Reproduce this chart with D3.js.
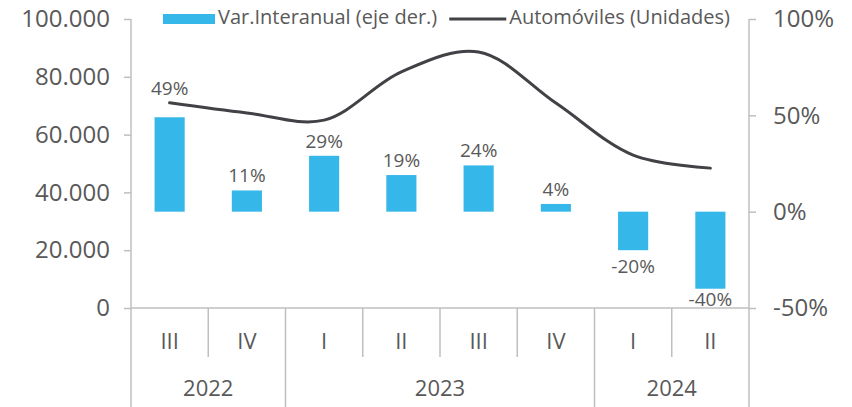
<!DOCTYPE html>
<html>
<head>
<meta charset="utf-8">
<script src="https://cdn.jsdelivr.net/npm/d3@7"></script>
<style>
  body { margin: 0; background: #fff; }
  text { font-family: "Open Sans", sans-serif; fill: #595959; }
</style>
</head>
<body>
<div id="chart"></div>
<script>
// data
const quarters = ['III', 'IV', 'I', 'II', 'III', 'IV', 'I', 'II'];
const quarterYears = ['2022', '2022', '2023', '2023', '2023', '2023', '2024', '2024'];
const autos = [71000, 67500, 65000, 81700, 88600, 70900, 52900, 48400];
const varInteranual = [49, 11, 29, 19, 24, 4, -20, -40];
const leftTicks = [0, 20000, 40000, 60000, 80000, 100000];
const rightTicks = [-50, 0, 50, 100];
const legendLabels = ['Var.Interanual (eje der.)', 'Automóviles (Unidades)'];

const width = 852, height = 407;
const margin = {top: 19, right: 103, bottom: 99, left: 131};
const barColor = '#35b7e9';
const lineColor = '#414146';
const axisColor = '#bfbfbf';

const svg = d3.select('#chart').append('svg')
  .attr('width', width)
  .attr('height', height);

const x = d3.scaleBand()
  .domain(d3.range(quarters.length))
  .range([margin.left, width - margin.right]);

const yL = d3.scaleLinear()
  .domain([0, 100000])
  .range([height - margin.bottom, margin.top]);

const yR = d3.scaleLinear()
  .domain([-50, 100])
  .range([height - margin.bottom, margin.top]);

const bw = x.bandwidth();
const barW = bw * 0.39;
const cx = i => x(i) + bw / 2;
const plotBottom = height - margin.bottom;

// left axis
svg.append('g')
  .attr('transform', `translate(${margin.left},0)`)
  .call(d3.axisLeft(yL).tickValues(leftTicks).tickSize(7).tickSizeOuter(0).tickPadding(14)
    .tickFormat(d => d3.format(',')(d).replace(/,/g, '.')))
  .call(g => g.select('.domain').remove())
  .call(g => g.selectAll('.tick line').attr('stroke', axisColor).attr('stroke-width', 1.5))
  .call(g => g.selectAll('.tick text').attr('font-size', 24).attr('fill', '#595959'));

// right axis
svg.append('g')
  .attr('transform', `translate(${width - margin.right},0)`)
  .call(d3.axisRight(yR).tickValues(rightTicks).tickSize(7).tickSizeOuter(0).tickPadding(17)
    .tickFormat(d => d + '%'))
  .call(g => g.select('.domain').remove())
  .call(g => g.selectAll('.tick line').attr('stroke', axisColor).attr('stroke-width', 1.5))
  .call(g => g.selectAll('.tick text').attr('font-size', 24).attr('fill', '#595959'));

// axis lines, running down through the category area
const axes = svg.append('g').attr('stroke', axisColor).attr('stroke-width', 1.5);
axes.append('line')
  .attr('x1', margin.left).attr('x2', margin.left)
  .attr('y1', margin.top).attr('y2', height);
axes.append('line')
  .attr('x1', width - margin.right).attr('x2', width - margin.right)
  .attr('y1', margin.top).attr('y2', height);
axes.append('line')
  .attr('x1', margin.left).attr('x2', width - margin.right)
  .attr('y1', plotBottom).attr('y2', plotBottom);

// separators between quarters; longer where the year changes
d3.range(1, quarters.length).forEach(i => {
  const newYear = quarterYears[i] !== quarterYears[i - 1];
  axes.append('line')
    .attr('x1', x(i)).attr('x2', x(i))
    .attr('y1', plotBottom)
    .attr('y2', newYear ? height : plotBottom + 49);
});

// quarter labels
svg.append('g').selectAll('text')
  .data(quarters)
  .join('text')
    .attr('x', (d, i) => cx(i))
    .attr('y', plotBottom + 35)
    .attr('text-anchor', 'middle')
    .attr('dominant-baseline', 'middle')
    .attr('font-size', 22)
    .text(d => d);

// year labels, centred under their quarters
const yearGroups = d3.groups(quarters.map((q, i) => i), i => quarterYears[i]);
svg.append('g').selectAll('text')
  .data(yearGroups)
  .join('text')
    .attr('x', d => (x(d[1][0]) + x(d[1][d[1].length - 1]) + bw) / 2)
    .attr('y', plotBottom + 82)
    .attr('text-anchor', 'middle')
    .attr('dominant-baseline', 'middle')
    .attr('font-size', 22)
    .text(d => d[0]);

// bars
svg.append('g').selectAll('rect')
  .data(varInteranual)
  .join('rect')
    .attr('x', (d, i) => cx(i) - barW / 2)
    .attr('y', d => Math.min(yR(d), yR(0)))
    .attr('width', barW)
    .attr('height', d => Math.abs(yR(d) - yR(0)))
    .attr('fill', barColor);

// line
const line = d3.line()
  .x((d, i) => cx(i))
  .y(d => yL(d))
  .curve(d3.curveCatmullRom.alpha(0.5));

svg.append('path')
  .datum(autos)
  .attr('fill', 'none')
  .attr('stroke', lineColor)
  .attr('stroke-width', 3)
  .attr('stroke-linecap', 'round')
  .attr('d', line);

// bar labels: above positive bars, below negative ones, kept clear of the line
svg.append('g').selectAll('text')
  .data(varInteranual)
  .join('text')
    .attr('x', (d, i) => cx(i))
    .attr('y', (d, i) => {
      if (d >= 0) {
        let base = yR(d) - 8;
        const ly = yL(autos[i]);
        if (base > ly - 4 && base - 16 < ly + 4) base = ly - 8;
        return base;
      }
      return Math.min(yR(d) + 23, plotBottom - 2);
    })
    .attr('text-anchor', 'middle')
    .attr('font-size', 19)
    .text(d => d + '%');

// legend
const legend = svg.append('g').attr('transform', 'translate(163,19)');
legend.append('rect')
  .attr('x', 0).attr('y', -5)
  .attr('width', 52).attr('height', 10)
  .attr('fill', barColor);
const t1 = legend.append('text')
  .attr('x', 55)
  .attr('dominant-baseline', 'middle')
  .attr('font-size', 20)
  .text(legendLabels[0]);
const x2 = 55 + t1.node().getComputedTextLength() + 12;
legend.append('line')
  .attr('x1', x2).attr('x2', x2 + 57)
  .attr('stroke', lineColor)
  .attr('stroke-width', 3);
legend.append('text')
  .attr('x', x2 + 60)
  .attr('dominant-baseline', 'middle')
  .attr('font-size', 20)
  .text(legendLabels[1]);
</script>
</body>
</html>
